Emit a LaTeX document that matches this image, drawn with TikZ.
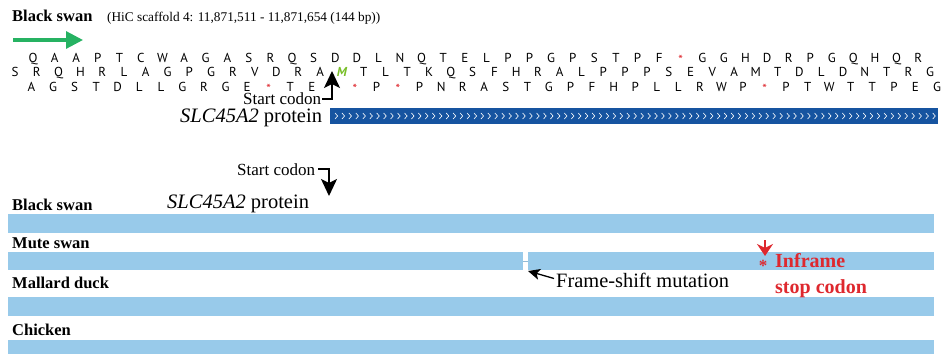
\documentclass[tikz,border=0pt]{standalone}
\usepackage{fontspec}
\setmainfont{Liberation Serif}
\newfontfamily\aafont{PT Sans}
\usetikzlibrary{arrows.meta}

\definecolor{fwdgreen}{RGB}{38,178,98}
\definecolor{protblue}{RGB}{22,84,160}
\definecolor{barblue}{RGB}{152,202,234}
\definecolor{stopred}{RGB}{222,40,46}
\definecolor{metgreen}{RGB}{120,190,40}

\tikzset{
  txt/.style={inner sep=0pt, anchor=base west},
  species/.style={txt, font=\bfseries\fontsize{16.5}{18}\selectfont},
  coord/.style={txt, font=\fontsize{13.3}{15}\selectfont},
  protlabel/.style={txt, font=\fontsize{20.5}{22}\selectfont},
  codonlabel/.style={txt, font=\fontsize{17}{19}\selectfont},
  aa/.style={inner sep=0pt, anchor=base, font=\aafont\fontsize{13}{13}\selectfont},
  aastop/.style={aa, text=stopred, yshift=-2.4pt},
  aamet/.style={aa, text=metgreen, font=\aafont\bfseries\itshape\fontsize{13}{13}\selectfont},
  lightbar/.style={fill=barblue, draw=none, inner sep=0pt, anchor=north west},
  pointer/.style={line width=1.4pt, -{Stealth[length=17pt,width=16pt,inset=4pt]}},
}

% one reading frame: #1 row name, #2 first x, #3 step, #4 baseline y, #5 residues
\newcommand{\frameRow}[5]{%
  \foreach \c [count=\i] in {#5} {%
    \ifnum\strcmp{\c}{?}=0\relax
    \else\ifnum\strcmp{\c}{*}=0\relax
      \node[aastop] (#1-\i) at ({#2+(\i-1)*#3},#4) {*};
    \else\ifnum\strcmp{\c}{m}=0\relax
      \node[aamet] (#1-\i) at ({#2+(\i-1)*#3},#4) {M};
    \else
      \node[aa] (#1-\i) at ({#2+(\i-1)*#3},#4) {\c};
    \fi\fi\fi
  }%
}

\begin{document}
\begin{tikzpicture}[x=1pt,y=-1pt]
\useasboundingbox (0,0) rectangle (944,353);

% ---------- top panel: genomic region and translations ----------
\node[species] (bsTitle) at (12,22) {Black swan};
\node[coord] (scaf) at (107,22) {(HiC scaffold 4: 11,871,511 - 11,871,654 (144 bp))};

\coordinate (gaStart) at (13,40);
\coordinate (gaEnd) at (83,40);
\draw[fwdgreen, line width=3.2pt, -{Triangle[length=17pt,width=17pt]}] (gaStart) -- (gaEnd);

\frameRow{fa}{33}{21.59}{62.5}{Q,A,A,P,T,C,W,A,G,A,S,R,Q,S,D,D,L,N,Q,T,E,L,P,P,G,P,S,T,P,F,*,G,G,H,D,R,P,G,Q,H,Q,R}
\frameRow{fb}{15}{21.79}{77}{S,R,Q,H,R,L,A,G,P,G,R,V,D,R,A,m,T,L,T,K,Q,S,F,H,R,A,L,P,P,P,S,E,V,A,M,T,D,L,D,N,T,R,G}
\frameRow{fc}{31.5}{21.56}{91.5}{A,G,S,T,D,L,L,G,R,G,E,*,T,E,?,*,P,*,P,N,R,A,S,T,G,P,F,H,P,L,L,R,W,P,*,P,T,W,T,T,P,E,G}

% start codon marker
\node[codonlabel] (scTop) at (243,104) {Start codon};
\coordinate (scTopBend) at (332,99);
\coordinate (scTopTip) at (332,71);
\draw[pointer] (scTop.east |- scTopBend) ++(1,0) -- (scTopBend) -- (scTopTip);

% annotated protein track
\node[protlabel] (protTop) at (180,122) {\itshape SLC45A2\/\upshape\ protein};
\node[fill=protblue, draw=none, inner sep=0pt, anchor=north west,
      minimum width=608pt, minimum height=16pt] (protTrack) at (330,108) {};
\foreach \k in {0,...,86}
  \draw[white, line width=0.6pt] ({335+\k*6.95},113) -- ++(2.6,3) -- ++(-2.6,3);

% ---------- bottom panel: alignment across species ----------
\node[codonlabel] (scBot) at (237,175) {Start codon};
\coordinate (scBotBend) at (329,169);
\coordinate (scBotTip) at (329,196);
\draw[pointer] (scBot.east |- scBotBend) ++(3,0) -- (scBotBend) -- (scBotTip);

\node[species] (bsLabel) at (12,210) {Black swan};
\node[protlabel] (protBot) at (167,208) {\itshape SLC45A2\/\upshape\ protein};
\node[lightbar, minimum width=926pt, minimum height=18.5pt] (barBlack) at (8,214) {};

\node[species] (msLabel) at (12,248) {Mute swan};
\node[lightbar, minimum width=515pt, minimum height=18.5pt] (barMuteA) at (8,251.5) {};
\node[lightbar, minimum width=406pt, minimum height=18.5pt] (barMuteB) at (528,251.5) {};
\draw[barblue!80!gray, line width=0.5pt] (barMuteA.east) -- (barMuteB.west);

\node[species] (mdLabel) at (12,288) {Mallard duck};
\node[lightbar, minimum width=926pt, minimum height=18.5pt] (barDuck) at (8,297) {};

\node[species] (chLabel) at (12,335) {Chicken};
\node[lightbar, minimum width=926pt, minimum height=14pt] (barChicken) at (8,340) {};

% frame-shift annotation
\node[txt, font=\fontsize{20.4}{22}\selectfont] (fsLabel) at (556,287) {Frame-shift mutation};
\coordinate (fsTail) at (554,278.5);
\coordinate (fsTip) at (528,271);
\draw[line width=1.3pt, -{Stealth[length=12pt,width=11pt,inset=3pt]}] (fsTail) -- (fsTip);

% in-frame stop codon annotation
\coordinate (stopTail) at (765,240);
\coordinate (stopTip) at (765,256);
\draw[stopred, line width=1.8pt, -{Stealth[length=12pt,width=16pt,inset=4pt]}] (stopTail) -- (stopTip);
\node[inner sep=0pt, text=stopred, font=\bfseries\fontsize{17}{18}\selectfont] (stopStar) at (763,266) {*};
\node[txt, text=stopred, font=\bfseries\fontsize{20}{22}\selectfont] (stopL1) at (775,267) {Inframe};
\node[txt, text=stopred, font=\bfseries\fontsize{20}{22}\selectfont] (stopL2) at (775,293) {stop codon};
\end{tikzpicture}
\end{document}
